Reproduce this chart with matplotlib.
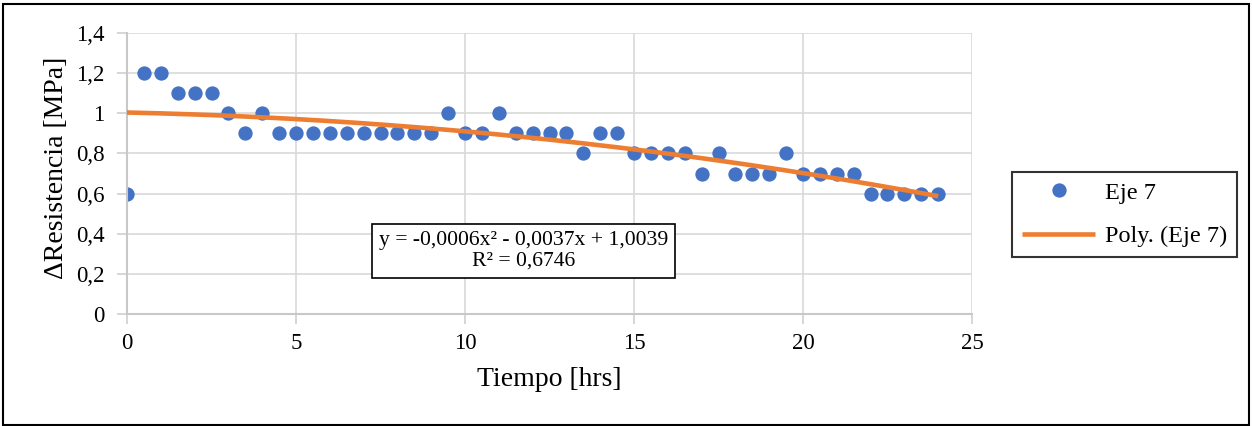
import numpy as np
import matplotlib.pyplot as plt
from matplotlib.patches import Rectangle

# data
tiempo = [0, 0.5, 1, 1.5, 2, 2.5, 3, 3.5, 4, 4.5, 5, 5.5, 6, 6.5, 7, 7.5, 8, 8.5,
          9, 9.5, 10, 10.5, 11, 11.5, 12, 12.5, 13, 13.5, 14, 14.5, 15, 15.5, 16,
          16.5, 17, 17.5, 18, 18.5, 19, 19.5, 20, 20.5, 21, 21.5, 22, 22.5, 23,
          23.5, 24]
resistencia = [0.6, 1.2, 1.2, 1.1, 1.1, 1.1, 1.0, 0.9, 1.0, 0.9, 0.9, 0.9, 0.9,
               0.9, 0.9, 0.9, 0.9, 0.9, 0.9, 1.0, 0.9, 0.9, 1.0, 0.9, 0.9, 0.9,
               0.9, 0.8, 0.9, 0.9, 0.8, 0.8, 0.8, 0.8, 0.7, 0.8, 0.7, 0.7, 0.7,
               0.8, 0.7, 0.7, 0.7, 0.7, 0.6, 0.6, 0.6, 0.6, 0.6]
x_ticks = [0, 5, 10, 15, 20, 25]
y_ticks = [0, 0.2, 0.4, 0.6, 0.8, 1.0, 1.2, 1.4]
y_ticklabels = ["0", "0,2", "0,4", "0,6", "0,8", "1", "1,2", "1,4"]
eq_text = "y = -0,0006x² - 0,0037x + 1,0039\nR² = 0,6746"

plt.rcParams['font.family'] = ['Liberation Serif', 'DejaVu Serif']

W, H = 1252, 426
fig = plt.figure(figsize=(W / 100, H / 100), dpi=100)
ax = fig.add_axes([127 / W, 1 - 314 / H, (972 - 127) / W, (314 - 33) / H])

# polynomial trendline (order 2), like Excel
coef = np.polyfit(tiempo, resistencia, 2)
xs = np.linspace(min(tiempo), max(tiempo), 200)
ax.plot(xs, np.polyval(coef, xs), color='#ED7D31', lw=3.3, zorder=3,
        solid_capstyle='butt', label='Poly. (Eje 7)')
ax.plot(tiempo, resistencia, 'o', color='#4472C4', ms=10.3, mec='none',
        zorder=2, label='Eje 7')

ax.set_xlim(0, 25)
ax.set_ylim(0, 1.4)
ax.set_xticks(x_ticks)
ax.set_yticks(y_ticks)
ax.set_yticklabels(y_ticklabels)
ax.tick_params(labelsize=16.5, length=7, width=1.2, color='#d0d0d0')
ax.tick_params(axis='y', pad=9)
ax.tick_params(axis='x', pad=7)
ax.grid(True, color='#d9d9d9', lw=1.2)
ax.set_axisbelow(True)
for side in ['top', 'right']:
    ax.spines[side].set_visible(False)
for side in ['left', 'bottom']:
    ax.spines[side].set_color('#c8c8c8')
    ax.spines[side].set_linewidth(1.5)

ax.set_xlabel('Tiempo [hrs]', fontsize=20, labelpad=9)
ax.set_ylabel('ΔResistencia [MPa]', fontsize=20)
ax.yaxis.set_label_coords(-0.0686, 0.52)

ax.text(0.469, 0.225, eq_text, transform=ax.transAxes, ha='center',
        va='center', fontsize=15.6, linespacing=1.1,
        bbox=dict(boxstyle='square,pad=0.33', fc='white', ec='black', lw=1.2))

handles, labels = ax.get_legend_handles_labels()
leg = fig.legend(handles[::-1], labels[::-1], loc='center',
                 bbox_to_anchor=(1124.5 / W, 1 - 214.5 / H), fontsize=17.5,
                 frameon=True, fancybox=False, edgecolor='black',
                 handlelength=3.0, borderpad=0.4, labelspacing=0.9,
                 handletextpad=0.4)
leg.get_frame().set_linewidth(1.5)

fig.patches.append(Rectangle((3 / W, 1 / H), (W - 6) / W, (H - 5) / H,
                             transform=fig.transFigure, fill=False,
                             ec='black', lw=1.5))

fig.savefig('out.png', dpi=100)
